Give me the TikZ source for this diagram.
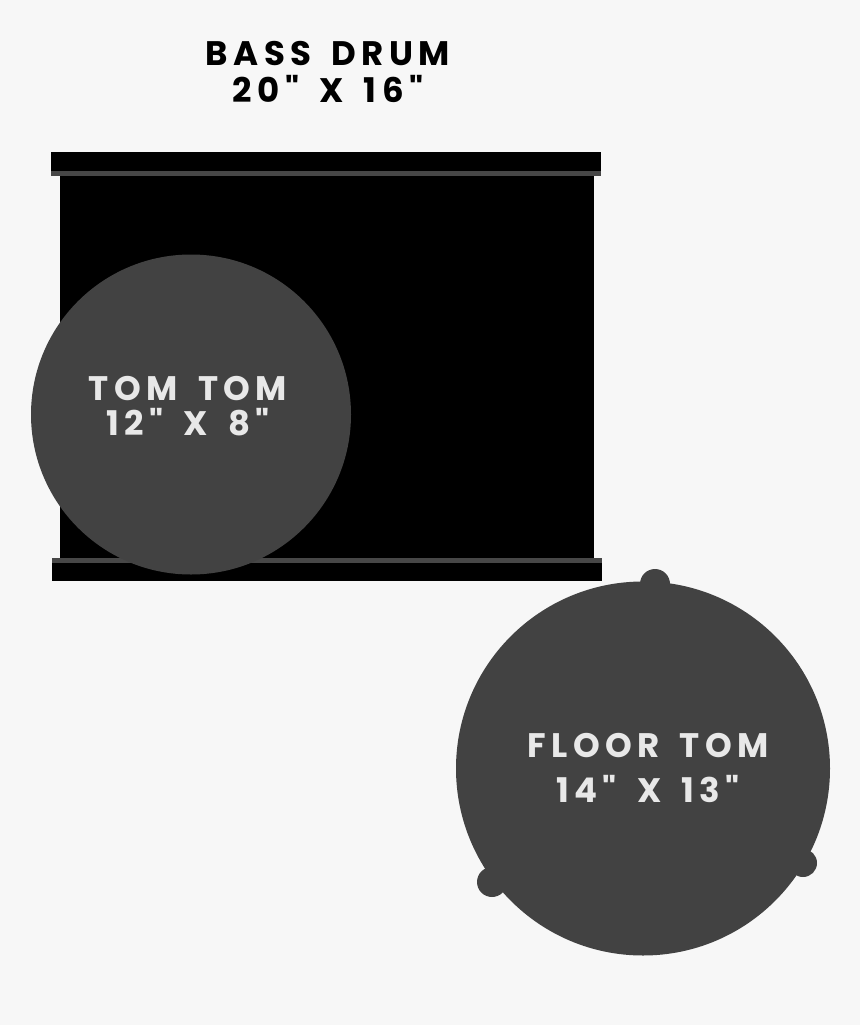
\documentclass[tikz,border=0pt]{standalone}
\usepackage{fontspec}
\newfontfamily\drumfont{Poppins}[LetterSpace=16,WordSpace=1.6]
\definecolor{bg}{HTML}{F7F7F7}
\definecolor{drumgray}{HTML}{424242}
\definecolor{rimgray}{HTML}{474747}
\definecolor{lighttext}{HTML}{E8E8E8}
\tikzset{
  lbl/.style={anchor=base, inner sep=0pt, font=\drumfont\bfseries\fontsize{34}{34}\selectfont},
  darklbl/.style={lbl, text=black},
  lightlbl/.style={lbl, text=lighttext},
}
\begin{document}
\begin{tikzpicture}[x=1pt,y=-1pt]
\fill[bg] (0,0) rectangle (860,1025);
\useasboundingbox (0,0) rectangle (860,1025);
% bass drum
\fill[black] (60,171) rectangle (594,563);
\fill[black] (51,152) rectangle (601,171);
\fill[rimgray] (51,171) rectangle (601,176);
\fill[rimgray] (52,558) rectangle (602,563);
\fill[black] (52,563) rectangle (602,581);
% tom tom
\fill[drumgray] (191,414.5) circle[radius=160];
% floor tom
\fill[drumgray] (643,768.5) circle[radius=187];
\fill[drumgray] (655,584) circle[radius=15];
\fill[drumgray] (492,882) circle[radius=15];
\fill[drumgray] (803,863) circle[radius=14];
% labels
\node[darklbl] (bass1) at (328,66) {BASS DRUM};
\node[darklbl] (bass2) at (328,102) {20" X 16"};
\node[lightlbl] (tom1) at (188,400) {TOM TOM};
\node[lightlbl] (tom2) at (188,435) {12" X 8"};
\node[lightlbl] (floor1) at (648,757) {FLOOR TOM};
\node[lightlbl] (floor2) at (648,802) {14" X 13"};
\end{tikzpicture}
\end{document}
